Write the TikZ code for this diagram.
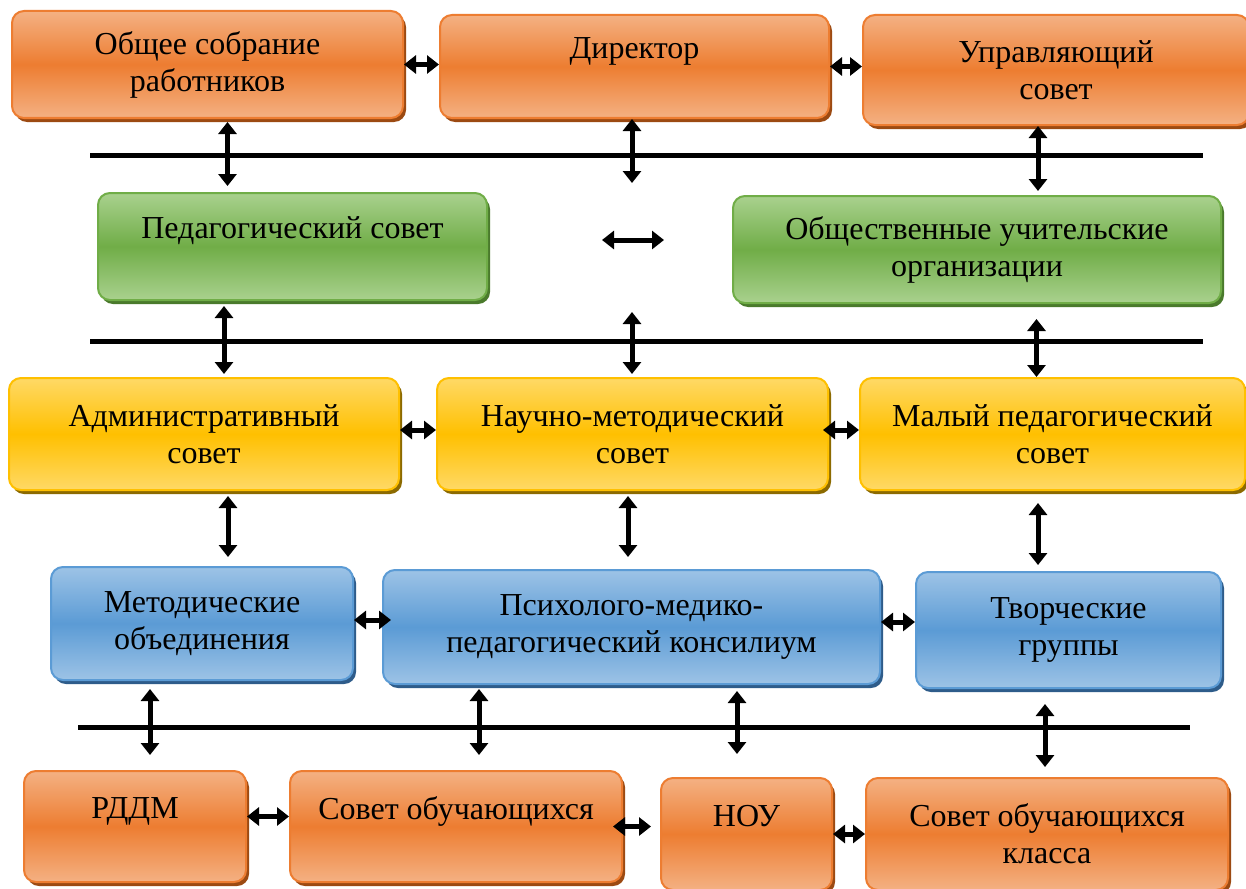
\documentclass[tikz,border=0pt]{standalone}
\usepackage{fontspec}
\setmainfont{Liberation Serif}
\usepackage{tikz}
\usetikzlibrary{arrows.meta,shadows}

\definecolor{orgfill}{HTML}{ED7D31}
\definecolor{orglite}{HTML}{F4B183}
\definecolor{orgdark}{HTML}{9C4A12}
\definecolor{grnfill}{HTML}{70AD47}
\definecolor{grnlite}{HTML}{A9D18E}
\definecolor{grndark}{HTML}{4A7A2C}
\definecolor{ylwfill}{HTML}{FFC000}
\definecolor{ylwlite}{HTML}{FFD966}
\definecolor{ylwdark}{HTML}{8C6A00}
\definecolor{blufill}{HTML}{5B9BD5}
\definecolor{blulite}{HTML}{9DC3E6}
\definecolor{bludark}{HTML}{2E5C8A}

\begin{document}
\begin{tikzpicture}[x=1pt, y=-1pt, >={Triangle[length=12pt,width=18pt]}]
\tikzset{
  unit/.style = {rectangle, rounded corners=12pt, line width=2pt, align=center, inner sep=0pt,
    font=\fontsize{32}{37}\selectfont},
  dims/.style 2 args = {minimum width=#1pt, minimum height=#2pt},
  orgbox/.style = {unit, draw=orgfill, top color=orglite, bottom color=orglite, middle color=orgfill,
    drop shadow={shadow xshift=3pt, shadow yshift=-4pt, fill=orgdark, opacity=1}},
  grnbox/.style = {unit, draw=grnfill, top color=grnlite, bottom color=grnlite, middle color=grnfill,
    drop shadow={shadow xshift=3pt, shadow yshift=-4pt, fill=grndark, opacity=1}},
  ylwbox/.style = {unit, draw=ylwfill, top color=ylwlite, bottom color=ylwlite, middle color=ylwfill,
    drop shadow={shadow xshift=3pt, shadow yshift=-4pt, fill=ylwdark, opacity=1}},
  blubox/.style = {unit, draw=blufill, top color=blulite, bottom color=blulite, middle color=blufill,
    drop shadow={shadow xshift=3pt, shadow yshift=-4pt, fill=bludark, opacity=1}},
  link/.style = {<->, line width=5pt},
  bus/.style = {line width=5pt}
}

\path[fill=white] (0,0) rectangle (1246,888);
\useasboundingbox (0,0) rectangle (1246,888);

% Top level
\node[orgbox, dims={391}{107}] (gen) at (207.5,64.5) {Общее собрание\\работников};
\node[orgbox, dims={389}{103}] (dir) at (634.5,66.5) {Директор\\\mbox{}};
\node[orgbox, dims={386}{110}] (upr) at (1056,70) {Управляющий\\совет};

% Councils
\node[grnbox, dims={389}{107}] (ped) at (292.5,246.5) {Педагогический совет\\\mbox{}};
\node[grnbox, dims={488}{107}] (obs) at (977,249.5) {Общественные учительские\\организации};

\node[ylwbox, dims={390}{112}] (adm) at (204,434) {Административный\\совет};
\node[ylwbox, dims={391}{112}] (nmet) at (632.5,434) {Научно-методический\\совет};
\node[ylwbox, dims={385}{112}] (mal) at (1052.5,434) {Малый педагогический\\совет};

\node[blubox, dims={302}{113}] (mo) at (202,623.5) {Методические\\объединения};
\node[blubox, dims={497}{114}] (pmpk) at (631.5,627) {Психолого-медико-\\педагогический консилиум};
\node[blubox, dims={305}{116}] (tvor) at (1068.5,630) {Творческие\\группы};

% Pupils
\node[orgbox, dims={222}{111}] (rddm) at (135,826.5) {РДДМ\\\mbox{}};
\node[orgbox, dims={332}{111}] (sovob) at (456,826.5) {Совет обучающихся\\\mbox{}};
\node[orgbox, dims={171}{112}] (nou) at (746.5,834) {НОУ\\\mbox{}};
\node[orgbox, dims={362}{112}] (sovkl) at (1047,834) {Совет обучающихся\\класса};

% Bus lines
\draw[bus] (90,155) -- (1203,155);
\draw[bus] (90,341) -- (1203,341);
\draw[bus] (78,727) -- (1190,727);

% Free ends in the middle column
\coordinate (dirend) at (632,183);
\coordinate (nmetend) at (632,312);
\coordinate (pl) at (602,240);
\coordinate (pr) at (664,240);

% Edges
\draw[link] (gen.east) -- (gen.east -| dir.west);
\draw[link] (dir.east) -- (dir.east -| upr.west);
\draw[link, shorten <=3pt, shorten >=6pt] ([xshift=20pt]gen.south) -- ([xshift=20pt]gen.south |- ped.north);
\draw[link] (dir.south -| dirend) -- (dirend);
\draw[link, shorten >=4pt] ([xshift=-18pt]upr.south) -- ([xshift=-18pt]upr.south |- obs.north);
\draw[link] (pl) -- (pr);

\draw[link, shorten <=5pt, shorten >=3pt] ([xshift=20pt]adm.north |- ped.south) -- ([xshift=20pt]adm.north);
\draw[link, shorten >=3pt] (nmetend) -- (nmet.north -| nmetend);
\draw[link, shorten <=15pt] ([xshift=-16pt]mal.north |- obs.south) -- ([xshift=-16pt]mal.north);

\draw[link] ([yshift=4pt]adm.east) -- ([yshift=4pt]adm.east -| nmet.west);
\draw[link, shorten <=-6pt] ([yshift=4pt]nmet.east) -- ([yshift=4pt]nmet.east -| mal.west);

\draw[link, shorten <=5pt, shorten >=9pt] ([xshift=24pt]adm.south) -- ([xshift=24pt]adm.south |- mo.north);
\draw[link, shorten <=5pt, shorten >=12pt] ([xshift=-4.5pt]nmet.south) -- ([xshift=-4.5pt]nmet.south |- pmpk.north);
\draw[link, shorten <=12pt, shorten >=6pt] ([xshift=-14.5pt]mal.south) -- ([xshift=-14.5pt]mal.south |- tvor.north);

\draw[link, shorten >=-9pt] ([yshift=3.5pt]mo.east) -- ([yshift=3.5pt]mo.east -| pmpk.west);
\draw[link] ([yshift=5pt]pmpk.east) -- ([yshift=5pt]pmpk.east -| tvor.west);

\draw[link, shorten <=8pt, shorten >=15pt] ([xshift=15pt]rddm.north |- mo.south) -- ([xshift=15pt]rddm.north);
\draw[link, shorten <=4pt, shorten >=15pt] ([xshift=23pt]sovob.north |- pmpk.south) -- ([xshift=23pt]sovob.north);
\draw[link, shorten <=6pt, shorten >=23pt] ([xshift=-9.5pt]nou.north |- pmpk.south) -- ([xshift=-9.5pt]nou.north);
\draw[link, shorten <=15pt, shorten >=10pt] ([xshift=-23.5pt]tvor.south) -- ([xshift=-23.5pt]tvor.south |- sovkl.north);

\draw[link] ([yshift=10pt]rddm.east) -- ([yshift=10pt]rddm.east -| sovob.west);
\draw[link, shorten <=-10pt, shorten >=9pt] (sovob.east) -- (sovob.east -| nou.west);
\draw[link] (nou.east) -- (nou.east -| sovkl.west);

\end{tikzpicture}
\end{document}
